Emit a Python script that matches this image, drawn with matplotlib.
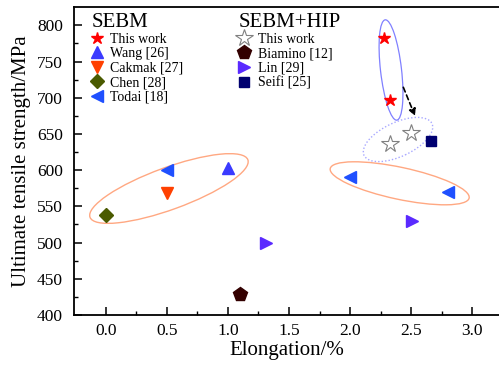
import matplotlib
matplotlib.use("Agg")
import matplotlib.pyplot as plt
import matplotlib.transforms as mtransforms
from matplotlib.patches import Ellipse

plt.rcParams['font.family'] = ['Liberation Serif', 'DejaVu Serif']
plt.rcParams['mathtext.fontset'] = 'stix'

# ---------------- data ----------------
sebm_this_x = [2.28, 2.33]
sebm_this_y = [783, 697]
wang_x = [1.0]
wang_y = [603]
cakmak_x = [0.5]
cakmak_y = [568]
chen_x = [0.0]
chen_y = [538]
todai_x = [0.5, 2.0, 2.8]
todai_y = [600, 590, 570]

hip_this_x = [2.33, 2.5]
hip_this_y = [636, 652]
biamino_x = [1.1]
biamino_y = [429]
lin_x = [1.31, 2.51]
lin_y = [499, 530]
seifi_x = [2.66]
seifi_y = [641]

x_ticks = [0.0, 0.5, 1.0, 1.5, 2.0, 2.5, 3.0]
y_ticks = [400, 450, 500, 550, 600, 650, 700, 750, 800]

# ---------------- figure ----------------
W, H = 499, 365
fig = plt.figure(figsize=(W / 100, H / 100), dpi=100)
ax = fig.add_axes([74 / W, (H - 315) / H, (W - 74) / W, (315 - 7) / H])
ax.set_xlim(-0.262, 3.221)
ax.set_ylim(400, 825.4)

ax.spines['right'].set_visible(False)
for s in ['left', 'bottom', 'top']:
    ax.spines[s].set_linewidth(1.3)

ax.set_xticks(x_ticks)
ax.set_xticklabels([f"{v:.1f}" for v in x_ticks])
ax.set_yticks(y_ticks)
ax.set_xticks([0.25, 0.75, 1.25, 1.75, 2.25, 2.75], minor=True)
ax.set_yticks([425, 475, 525, 575, 625, 675, 725, 775], minor=True)
ax.tick_params(which='major', direction='in', length=6, width=1.1, labelsize=12.5)
ax.tick_params(which='minor', direction='in', length=3, width=1.0)
ax.tick_params(axis='x', which='major', pad=6)
ax.tick_params(axis='y', which='major', pad=8)
ax.tick_params(top=False, right=False, which='both')

ax.set_xlabel("Elongation/%", fontsize=15, labelpad=1)
ax.set_ylabel("Ultimate tensile strength/MPa", fontsize=15, labelpad=4)

# ---------------- markers ----------------
c_red = '#ff0000'
c_wang = '#3a3aff'
c_cak = '#ff4000'
c_chen = '#4a5a00'
c_todai = '#1f50ff'
c_bia = '#330000'
c_lin = '#5a2aff'
c_seifi = '#000070'

h1 = ax.plot(sebm_this_x, sebm_this_y, ls='none', marker='*', ms=9, color=c_red, mec=c_red, label='This work', zorder=5)[0]
h2 = ax.plot(wang_x, wang_y, ls='none', marker='^', ms=8.5, color=c_wang, label='Wang [26]', zorder=5)[0]
h3 = ax.plot(cakmak_x, cakmak_y, ls='none', marker='v', ms=8.5, color=c_cak, label='Cakmak [27]', zorder=5)[0]
h4 = ax.plot(chen_x, chen_y, ls='none', marker='D', ms=7, color=c_chen, label='Chen [28]', zorder=5)[0]
h5 = ax.plot(todai_x, todai_y, ls='none', marker='<', ms=8.5, color=c_todai, label='Todai [18]', zorder=5)[0]

g1 = ax.plot(hip_this_x, hip_this_y, ls='none', marker='*', ms=13, mfc='white', mec='#808080', mew=0.8, label='This work', zorder=5)[0]
g2 = ax.plot(biamino_x, biamino_y, ls='none', marker='p', ms=10, color=c_bia, label='Biamino [12]', zorder=5)[0]
g3 = ax.plot(lin_x, lin_y, ls='none', marker='>', ms=8.5, color=c_lin, label='Lin [29]', zorder=5)[0]
g4 = ax.plot(seifi_x, seifi_y, ls='none', marker='s', ms=7, color=c_seifi, label='Seifi [25]', zorder=5)[0]

# ---------------- ellipses (sizes in pixels, centred in data coords) ----------------
def add_ellipse(cx, cy, w_px, h_px, angle, **kw):
    tr = fig.dpi_scale_trans + mtransforms.ScaledTranslation(cx, cy, ax.transData)
    e = Ellipse((0, 0), w_px / 100, h_px / 100, angle=angle, transform=tr, fill=False, **kw)
    ax.add_patch(e)

add_ellipse(0.516, 574.7, 168, 42, 20, ec='#ffa882', lw=1.0)
add_ellipse(2.407, 581.9, 142, 32, -12, ec='#ffa882', lw=1.0)
add_ellipse(2.336, 738.4, 101, 21, 96.6, ec='#8080ff', lw=0.9)
add_ellipse(2.393, 642.4, 75, 34, 25, ec='#a8a8ff', lw=1.0, ls=(0, (1, 1.5)))

ax.annotate('', xy=(2.533, 674.9), xytext=(2.437, 714.5),
            arrowprops=dict(arrowstyle='-|>', ls=(0, (3, 2)), color='black', lw=1.2,
                            mutation_scale=10, shrinkA=0, shrinkB=0))

# ---------------- legends ----------------
common = dict(loc='upper left', frameon=False, fontsize=10, title_fontsize=15,
              alignment='left', handlelength=0.8, labelspacing=0.1,
              borderaxespad=0, numpoints=1)
leg1 = ax.legend(handles=[h1, h2, h3, h4, h5], title='SEBM',
                 bbox_to_anchor=(0.028, 1.0), handletextpad=0.5, **common)
ax.add_artist(leg1)
leg2 = ax.legend(handles=[g1, g2, g3, g4], title='SEBM+HIP',
                 bbox_to_anchor=(0.375, 1.0), handletextpad=0.6, **common)

fig.savefig('out.png', dpi=100)
